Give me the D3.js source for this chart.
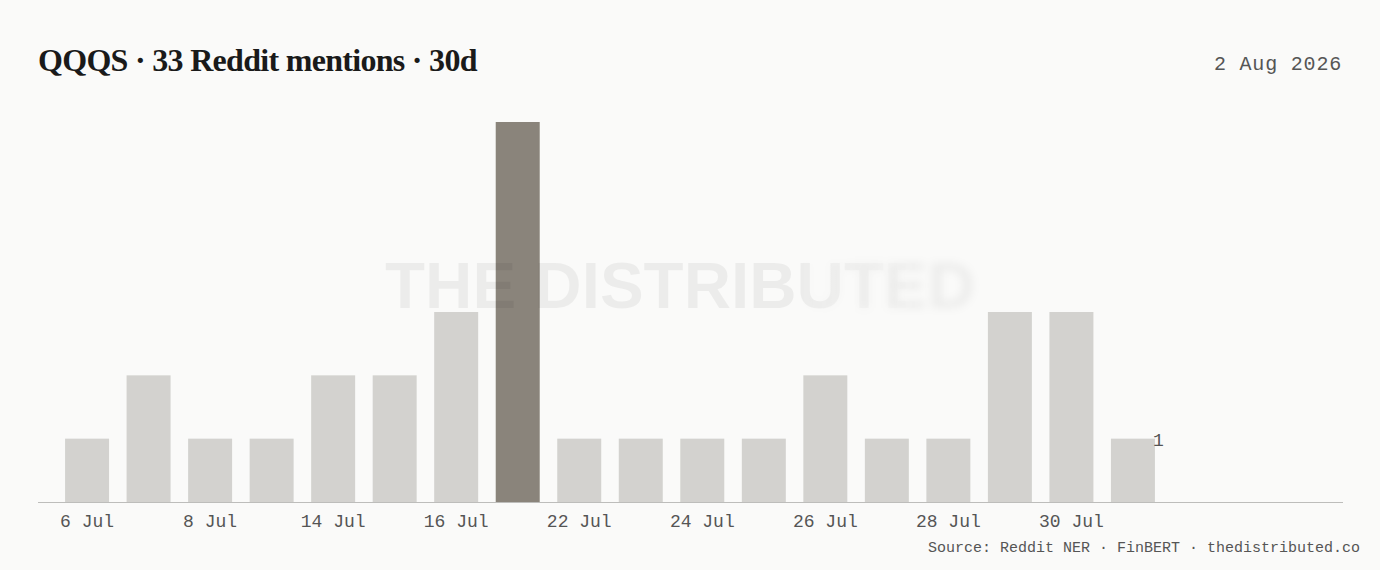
<!DOCTYPE html>
<html>
<head>
<meta charset="utf-8">
<script src="https://cdn.jsdelivr.net/npm/d3@7"></script>
<style>
  html, body { margin: 0; padding: 0; background: #fafaf9; }
  svg { display: block; }
  .mono { font-family: "Liberation Mono", "DejaVu Sans Mono", monospace; }
</style>
</head>
<body>
<div id="chart"></div>
<script>
// Datos del gráfico
const dates = ["6 Jul", "7 Jul", "8 Jul", "13 Jul", "14 Jul", "15 Jul", "16 Jul", "18 Jul", "22 Jul",
  "23 Jul", "24 Jul", "25 Jul", "26 Jul", "27 Jul", "28 Jul", "29 Jul", "30 Jul", "31 Jul"];
const mentions = [1, 2, 1, 1, 2, 2, 3, 6, 1, 1, 1, 1, 2, 1, 1, 3, 3, 1];
const tickLabels = ["6 Jul", "8 Jul", "14 Jul", "16 Jul", "22 Jul", "24 Jul", "26 Jul", "28 Jul", "30 Jul"];
const peakDate = "18 Jul";
const titleText = "QQQS · 33 Reddit mentions · 30d";
const dateText = "2 Aug 2026";
const sourceText = "Source: Reddit NER · FinBERT · thedistributed.co";

const width = 1380, height = 570;
const baseY = 502, topY = 122;

const svg = d3.select("#chart").append("svg")
  .attr("width", width)
  .attr("height", height);

svg.append("rect").attr("width", width).attr("height", height).attr("fill", "#fafaf9");

// Escalas
const x = d3.scaleBand()
  .domain(dates)
  .range([38, 1182])
  .paddingInner(0.285)
  .paddingOuter(0.44);

const y = d3.scaleLinear()
  .domain([0, d3.max(mentions)])
  .range([baseY, topY]);

// Barras
svg.append("g").selectAll("rect")
  .data(dates)
  .enter().append("rect")
  .attr("x", d => x(d))
  .attr("y", (d, i) => y(mentions[i]))
  .attr("width", x.bandwidth())
  .attr("height", (d, i) => baseY - y(mentions[i]))
  .attr("fill", d => d === peakDate ? "#8a847b" : "#d3d2cf");

// Eje X
const axis = svg.append("g")
  .attr("transform", `translate(0,${baseY})`)
  .call(d3.axisBottom(x).tickValues(tickLabels).tickSize(0).tickPadding(12));
axis.select(".domain").remove();
axis.selectAll("text")
  .style("font-family", "'Liberation Mono', 'DejaVu Sans Mono', monospace")
  .style("font-size", "18px")
  .attr("fill", "#555");

svg.append("line")
  .attr("x1", 38).attr("x2", 1343)
  .attr("y1", baseY + 0.5).attr("y2", baseY + 0.5)
  .attr("stroke", "#bdbdbb")
  .attr("stroke-width", 1.2);

// Etiqueta de la última barra
const last = dates[dates.length - 1];
svg.append("text")
  .attr("class", "mono")
  .attr("x", x(last) + x.bandwidth() - 2)
  .attr("y", y(mentions[mentions.length - 1]) + 7)
  .attr("font-size", 18)
  .attr("fill", "#555")
  .text(mentions[mentions.length - 1]);

// Marca de agua con desenfoque hacia la derecha
const defs = svg.append("defs");
const grad = defs.append("linearGradient").attr("id", "wmGrad")
  .attr("gradientUnits", "userSpaceOnUse")
  .attr("x1", 790).attr("x2", 920).attr("y1", 0).attr("y2", 0);
grad.append("stop").attr("offset", 0).attr("stop-color", "#fff");
grad.append("stop").attr("offset", 1).attr("stop-color", "#000");
const gradInv = defs.append("linearGradient").attr("id", "wmGradInv")
  .attr("gradientUnits", "userSpaceOnUse")
  .attr("x1", 790).attr("x2", 920).attr("y1", 0).attr("y2", 0);
gradInv.append("stop").attr("offset", 0).attr("stop-color", "#000");
gradInv.append("stop").attr("offset", 1).attr("stop-color", "#fff");
defs.append("mask").attr("id", "wmMask").attr("maskUnits", "userSpaceOnUse")
  .attr("x", 0).attr("y", 0).attr("width", width).attr("height", height)
  .append("rect").attr("width", width).attr("height", height).attr("fill", "url(#wmGrad)");
defs.append("mask").attr("id", "wmMaskInv").attr("maskUnits", "userSpaceOnUse")
  .attr("x", 0).attr("y", 0).attr("width", width).attr("height", height)
  .append("rect").attr("width", width).attr("height", height).attr("fill", "url(#wmGradInv)");
defs.append("filter").attr("id", "wmBlur")
  .attr("x", "-10%").attr("y", "-30%").attr("width", "120%").attr("height", "160%")
  .append("feGaussianBlur").attr("stdDeviation", 4);

const wm = (g) => g.append("text")
  .attr("x", 385).attr("y", 308)
  .attr("textLength", 590)
  .attr("lengthAdjust", "spacingAndGlyphs")
  .style("font-family", "'Liberation Sans', Arial, sans-serif")
  .style("font-weight", "bold")
  .style("font-size", "64px")
  .attr("fill", "#000")
  .attr("fill-opacity", 0.055)
  .text("THE DISTRIBUTED");
wm(svg.append("g").attr("mask", "url(#wmMask)"));
wm(svg.append("g").attr("mask", "url(#wmMaskInv)").attr("filter", "url(#wmBlur)"));

// Título y textos
svg.append("text")
  .attr("x", 38).attr("y", 71)
  .style("font-family", "'Liberation Serif', 'DejaVu Serif', serif")
  .style("font-weight", "bold")
  .style("font-size", "32px")
  .style("letter-spacing", "-0.7px")
  .attr("fill", "#1a1a1a")
  .text(titleText);

svg.append("text")
  .attr("class", "mono")
  .attr("x", 1342).attr("y", 70)
  .attr("text-anchor", "end")
  .style("font-size", "20px")
  .style("letter-spacing", "0.8px")
  .attr("fill", "#555")
  .text(dateText);

svg.append("text")
  .attr("class", "mono")
  .attr("x", 1360).attr("y", 552)
  .attr("text-anchor", "end")
  .style("font-size", "15px")
  .attr("fill", "#555")
  .text(sourceText);
</script>
</body>
</html>
